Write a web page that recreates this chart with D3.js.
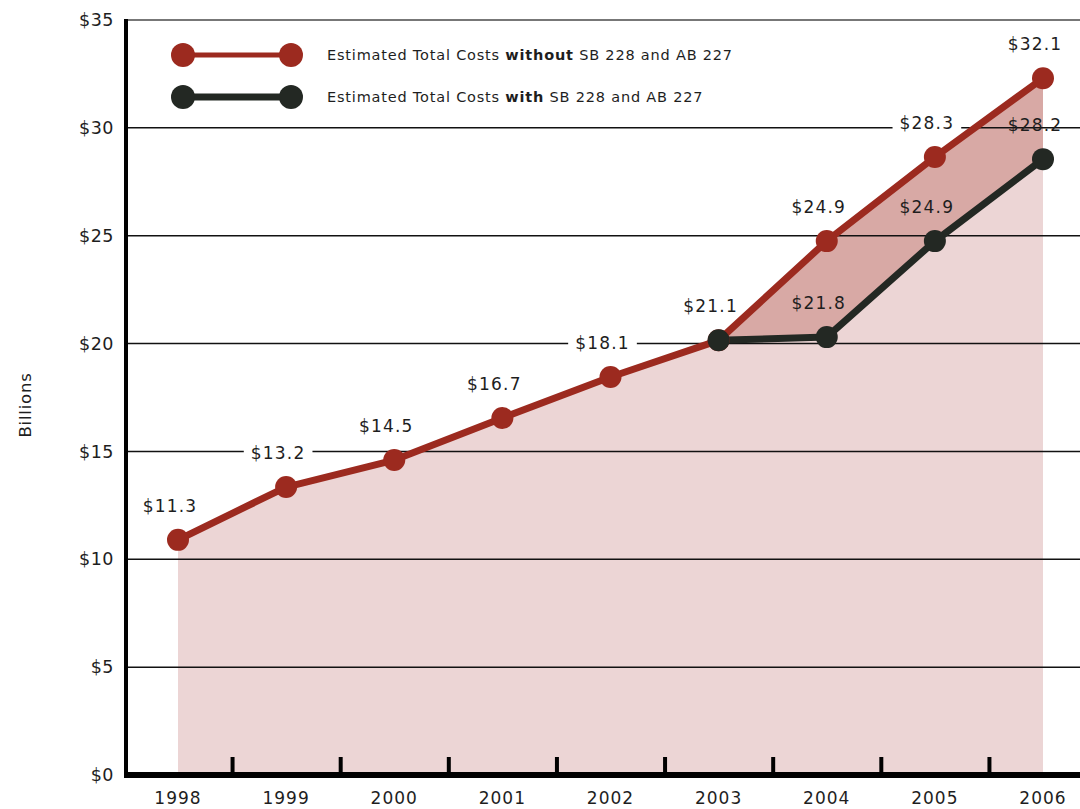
<!DOCTYPE html>
<html>
<head>
<meta charset="utf-8">
<script src="https://cdn.jsdelivr.net/npm/d3@7"></script>
<style>
  html, body { margin: 0; padding: 0; background: #fff; }
  #viz { width: 1080px; height: 809px; }
  text { font-family: "DejaVu Sans", sans-serif; fill: #1e1e1e; }
</style>
</head>
<body>
<div id="viz"></div>
<script>
// data
const years = [1998, 1999, 2000, 2001, 2002, 2003, 2004, 2005, 2006];
const withoutValues = [10.9, 13.35, 14.6, 16.55, 18.45, 20.15, 24.75, 28.65, 32.3];
const withoutLabels = ["$11.3", "$13.2", "$14.5", "$16.7", "$18.1", "$21.1", "$24.9", "$28.3", "$32.1"];
const withYears = [2003, 2004, 2005, 2006];
const withValues = [20.15, 20.3, 24.75, 28.55];
const withLabels = [null, "$21.8", "$24.9", "$28.2"];
const yTicks = [0, 5, 10, 15, 20, 25, 30, 35];
const legendNames = [
    ["Estimated Total Costs ", "without", " SB 228 and AB 227"],
    ["Estimated Total Costs ", "with", " SB 228 and AB 227"]
];

const RED = "#9c2a1f";
const BLACK = "#232823";
const LIGHT = "#ecd5d5";
const DARK = "#d8a9a5";

const width = 1080, height = 809;
const svg = d3.select("#viz").append("svg")
    .attr("width", width)
    .attr("height", height);

const x = d3.scaleLinear().domain([1998, 2006]).range([178, 1043]);
const y = d3.scaleLinear().domain([0, 35]).range([775, 20]);
const left = 126;

const redPts = years.map((yr, i) => ({ yr, v: withoutValues[i], label: withoutLabels[i] }));
const blkPts = withYears.map((yr, i) => ({ yr, v: withValues[i], label: withLabels[i] }));

// light fill under the "without" line
svg.append("path")
    .datum(redPts)
    .attr("fill", LIGHT)
    .attr("d", d3.area().x(d => x(d.yr)).y0(y(0)).y1(d => y(d.v)));

// darker band between the two lines
const band = withYears.map((yr, i) => ({ yr, hi: withoutValues[years.indexOf(yr)], lo: withValues[i] }));
svg.append("path")
    .datum(band)
    .attr("fill", DARK)
    .attr("d", d3.area().x(d => x(d.yr)).y0(d => y(d.lo)).y1(d => y(d.hi)));

// gridlines
svg.append("g")
    .selectAll("line")
    .data(yTicks.filter(t => t > 0))
    .join("line")
    .attr("x1", left).attr("x2", width)
    .attr("y1", d => y(d)).attr("y2", d => y(d))
    .attr("stroke", d => d === 35 ? "#777" : "#111")
    .attr("stroke-width", d => d === 35 ? 2 : 1.5);

// y tick labels
svg.append("g")
    .selectAll("text")
    .data(yTicks)
    .join("text")
    .attr("x", 114)
    .attr("y", d => y(d))
    .attr("dy", "0.35em")
    .attr("text-anchor", "end")
    .style("font-size", "17.5px")
    .style("letter-spacing", "0.5px")
    .text(d => "$" + d);

// y axis title
svg.append("text")
    .attr("transform", "translate(31,405) rotate(-90)")
    .attr("text-anchor", "middle")
    .style("font-size", "16.5px")
    .style("letter-spacing", "0.8px")
    .text("Billions");

// x axis
const xAxis = d3.axisBottom(x)
    .tickValues(years.slice(0, -1).map(d => d + 0.5))
    .tickSize(-18)
    .tickFormat("");
const gx = svg.append("g")
    .attr("transform", `translate(0,${y(0)})`)
    .call(xAxis);
gx.select(".domain").remove();
gx.selectAll(".tick line").attr("stroke", "#000").attr("stroke-width", 4);
svg.append("line")
    .attr("x1", left - 2).attr("x2", width)
    .attr("y1", y(0)).attr("y2", y(0))
    .attr("stroke", "#000").attr("stroke-width", 6);
svg.append("line")
    .attr("x1", left).attr("x2", left)
    .attr("y1", y(35) - 1).attr("y2", y(0))
    .attr("stroke", "#000").attr("stroke-width", 4);

svg.append("g")
    .selectAll("text")
    .data(years)
    .join("text")
    .attr("x", d => x(d))
    .attr("y", 798)
    .attr("dy", "0.35em")
    .attr("text-anchor", "middle")
    .style("font-size", "17px")
    .style("letter-spacing", "1px")
    .text(d => d);

// white boxes behind the "without" value labels (they break the gridlines)
const labelOffsetX = -8, labelOffsetY = -34;
const bg = svg.append("g");
const line = d3.line().x(d => x(d.yr)).y(d => y(d.v));

svg.append("path").datum(redPts)
    .attr("fill", "none").attr("stroke", RED).attr("stroke-width", 7)
    .attr("stroke-linejoin", "round")
    .attr("d", line);
svg.append("path").datum(blkPts)
    .attr("fill", "none").attr("stroke", BLACK).attr("stroke-width", 7)
    .attr("stroke-linejoin", "round")
    .attr("d", line);

svg.append("g").selectAll("circle")
    .data(redPts)
    .join("circle")
    .attr("cx", d => x(d.yr)).attr("cy", d => y(d.v)).attr("r", 11)
    .attr("fill", RED);
svg.append("g").selectAll("circle")
    .data(blkPts)
    .join("circle")
    .attr("cx", d => x(d.yr)).attr("cy", d => y(d.v)).attr("r", 11)
    .attr("fill", BLACK);

// value labels
const vlab = svg.append("g")
    .selectAll("text")
    .data(redPts.concat(blkPts.filter(d => d.label)))
    .join("text")
    .attr("x", d => x(d.yr) + labelOffsetX)
    .attr("y", d => y(d.v) + labelOffsetY)
    .attr("dy", "0.35em")
    .attr("text-anchor", "middle")
    .style("font-size", "17px")
    .style("letter-spacing", "1.2px")
    .text(d => d.label);

vlab.filter((d, i) => i < redPts.length).each(function () {
    const b = this.getBBox();
    bg.append("rect")
        .attr("x", b.x - 7).attr("y", b.y - 2)
        .attr("width", b.width + 14).attr("height", b.height + 4)
        .attr("fill", "#fff");
});

// legend
const legend = svg.append("g");
[RED, BLACK].forEach((c, i) => {
    const ly = 55 + i * 42;
    legend.append("line")
        .attr("x1", 183).attr("x2", 291).attr("y1", ly).attr("y2", ly)
        .attr("stroke", c).attr("stroke-width", i === 0 ? 5 : 7);
    legend.selectAll(null).data([183, 291]).join("circle")
        .attr("cx", d => d).attr("cy", ly).attr("r", 12).attr("fill", c);
    const t = legend.append("text")
        .attr("x", 327).attr("y", ly).attr("dy", "0.35em")
        .style("font-size", "14.5px")
        .style("letter-spacing", "0.8px");
    legendNames[i].forEach((s, j) => {
        t.append("tspan").style("font-weight", j === 1 ? "bold" : "normal").text(s);
    });
});
</script>
</body>
</html>
